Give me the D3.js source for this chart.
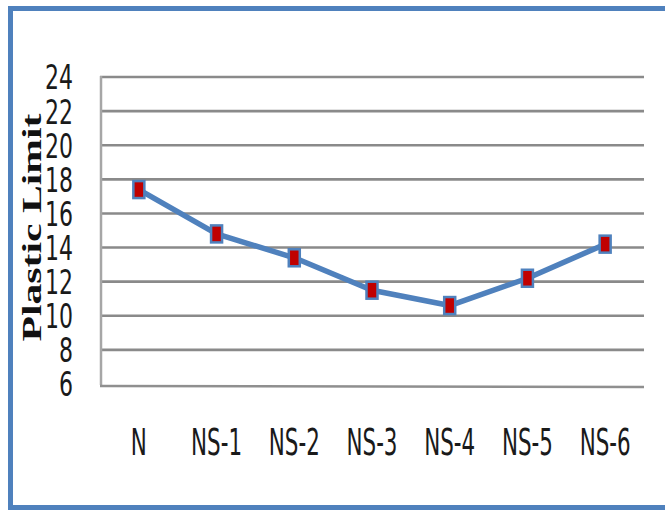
<!DOCTYPE html>
<html>
<head>
<meta charset="utf-8">
<script src="https://cdn.jsdelivr.net/npm/d3@7"></script>
<style>
  html, body { margin: 0; padding: 0; background: #ffffff; }
  svg { display: block; }
</style>
</head>
<body>
<svg id="chart" width="665" height="511"></svg>
<script>
// Plastic limit per mix
const categories = ["N", "NS-1", "NS-2", "NS-3", "NS-4", "NS-5", "NS-6"];
const plasticLimit = [17.4, 14.8, 13.4, 11.5, 10.6, 12.2, 14.2];
const yTicks = [6, 8, 10, 12, 14, 16, 18, 20, 22, 24];
const yTitle = "Plastic Limit";

const svg = d3.select("#chart");
const blue = "#4f81bd";
const grid = "#8a8a8a";

// outer frame
svg.append("rect")
  .attr("x", 10.5).attr("y", 8.5)
  .attr("width", 680).attr("height", 499)
  .attr("fill", "#ffffff")
  .attr("stroke", blue).attr("stroke-width", 5);

const plot = { left: 100, right: 644, top: 77, bottom: 384 };

const x = d3.scaleBand().domain(categories).range([plot.left, plot.right]).padding(0);
const y = d3.scaleLinear().domain([6, 24]).range([plot.bottom, plot.top]);

// horizontal gridlines
svg.append("g")
  .selectAll("line")
  .data(yTicks.filter(t => t > 6))
  .join("line")
  .attr("x1", plot.left).attr("x2", plot.right)
  .attr("y1", d => y(d)).attr("y2", d => y(d))
  .attr("stroke", grid).attr("stroke-width", 2.6);

// axis lines
svg.append("line")
  .attr("x1", plot.left + 1).attr("x2", plot.left + 1)
  .attr("y1", plot.top - 1).attr("y2", y(6) + 1)
  .attr("stroke", "#a6a6a6").attr("stroke-width", 2.5);
svg.append("line")
  .attr("x1", plot.left).attr("x2", plot.right)
  .attr("y1", y(6) + 2).attr("y2", y(6) + 3)
  .attr("stroke", "#8f8f8f").attr("stroke-width", 2.6);

const narrow = "'Liberation Sans Narrow', 'DejaVu Sans Condensed', 'Liberation Sans', sans-serif";

// y tick labels
const yAxis = d3.axisLeft(y).tickValues(yTicks).tickSize(0).tickPadding(0).tickFormat(d3.format("d"));
const yg = svg.append("g").attr("transform", "translate(73,0)").call(yAxis);
yg.select(".domain").remove();
const yLabels = yg.selectAll("text")
  .attr("x", 0).attr("dy", "0.36em")
  .style("font-family", narrow).style("font-size", "33px")
  .attr("fill", "#1a1a1a");
{
  let ref = 1;
  yLabels.each(function(d) { if (d === 24) ref = this.getComputedTextLength(); });
  const k = 28 / ref;
  yLabels.each(function() {
    d3.select(this).attr("textLength", this.getComputedTextLength() * k).attr("lengthAdjust", "spacingAndGlyphs");
  });
}

// x category labels
const xAxis = d3.axisBottom(x).tickSize(0).tickPadding(0);
const xg = svg.append("g").attr("transform", "translate(0,455)").call(xAxis);
xg.select(".domain").remove();
const xLabels = xg.selectAll("text")
  .attr("y", 0).attr("dy", 0)
  .style("font-family", narrow).style("font-size", "38px")
  .attr("fill", "#1a1a1a");
{
  let ref = 1;
  xLabels.each(function(d) { if (d === "NS-1") ref = this.getComputedTextLength(); });
  const k = 51 / ref;
  xLabels.each(function() {
    d3.select(this).attr("textLength", this.getComputedTextLength() * k).attr("lengthAdjust", "spacingAndGlyphs");
  });
}

// y axis title
svg.append("text")
  .attr("transform", "translate(41,227.5) rotate(-90)")
  .attr("text-anchor", "middle")
  .style("font-family", "'Liberation Serif', 'Times New Roman', serif")
  .style("font-weight", "bold")
  .style("font-size", "27px")
  .attr("fill", "#111")
  .attr("textLength", 228).attr("lengthAdjust", "spacingAndGlyphs")
  .text(yTitle);

// series line
const cx = d => x(d) + x.bandwidth() / 2;
const line = d3.line().x((d, i) => cx(categories[i])).y(d => y(d));
svg.append("path")
  .datum(plasticLimit)
  .attr("d", line)
  .attr("fill", "none")
  .attr("stroke", blue).attr("stroke-width", 5.5)
  .attr("stroke-linejoin", "round");

// markers
svg.append("g")
  .selectAll("rect")
  .data(plasticLimit)
  .join("rect")
  .attr("x", (d, i) => cx(categories[i]) - 5.5)
  .attr("y", d => y(d) - 8.5)
  .attr("width", 11).attr("height", 17)
  .attr("fill", "#c00000")
  .attr("stroke", blue).attr("stroke-width", 2.5);
</script>
</body>
</html>
